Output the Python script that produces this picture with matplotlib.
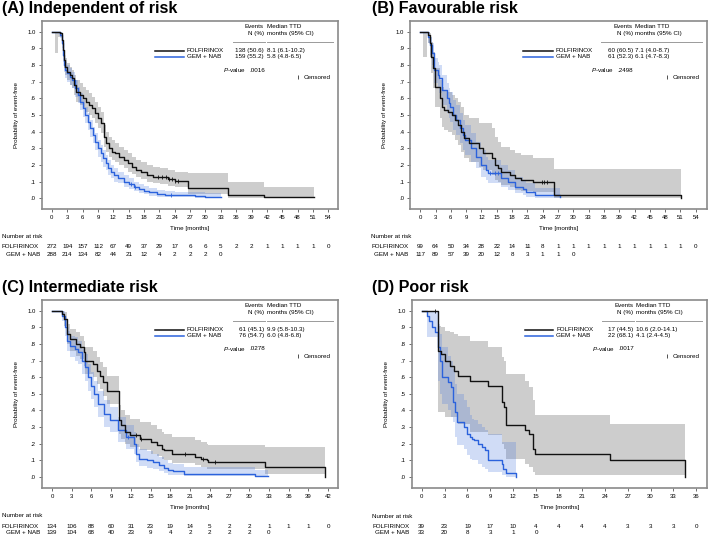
import matplotlib
matplotlib.use("Agg")
import matplotlib.pyplot as plt
import matplotlib.transforms as mtransforms
import numpy as np

plt.rcParams['font.family'] = ['Liberation Sans', 'DejaVu Sans']
plt.rcParams['mathtext.fontset'] = 'custom'
plt.rcParams['mathtext.rm'] = 'Liberation Sans'
plt.rcParams['mathtext.it'] = 'Liberation Sans:italic'

# ---------------- data ----------------
# (A) Independent of risk
a_fol_t = [0, 0.6, 1.2, 1.5, 1.9, 2.1, 2.3, 2.6, 3.0, 3.5, 4.0, 4.4, 4.8, 5.4, 6.0, 6.6, 7.2, 7.8, 8.4, 9.0, 9.6,
           10.2, 10.6, 11.1, 11.7, 12.4, 13.2, 14.0, 14.8, 15.6, 16.4, 17.4, 18.5, 19.8, 21.2, 22.6, 24.0, 26.5,
           34.4, 41.5, 51.2]
a_fol_s = [1.00, 1.00, 1.00, 0.99, 0.95, 0.89, 0.83, 0.79, 0.76, 0.74, 0.72, 0.68, 0.64, 0.62, 0.60, 0.58, 0.56,
           0.54, 0.51, 0.48, 0.45, 0.37, 0.33, 0.30, 0.28, 0.27, 0.25, 0.23, 0.21, 0.19, 0.17, 0.155, 0.14, 0.13,
           0.125, 0.115, 0.105, 0.06, 0.02, 0.007, 0.007]
a_fol_lo = [1.00, 0.87, 0.97, 0.97, 0.92, 0.85, 0.78, 0.74, 0.71, 0.68, 0.66, 0.62, 0.58, 0.56, 0.54, 0.52, 0.50,
            0.48, 0.45, 0.42, 0.39, 0.31, 0.28, 0.25, 0.23, 0.22, 0.20, 0.18, 0.16, 0.145, 0.13, 0.115, 0.10, 0.09,
            0.085, 0.075, 0.065, 0.025, 0.0, 0.0, 0.0]
a_fol_hi = [1.00, 1.00, 1.00, 1.00, 0.98, 0.93, 0.88, 0.84, 0.81, 0.79, 0.77, 0.74, 0.71, 0.69, 0.67, 0.65, 0.63,
            0.61, 0.58, 0.55, 0.52, 0.44, 0.40, 0.37, 0.35, 0.33, 0.31, 0.29, 0.27, 0.25, 0.23, 0.215, 0.20, 0.19,
            0.18, 0.17, 0.16, 0.15, 0.10, 0.065, 0.065]
a_gem_t = [0, 1.6, 1.9, 2.1, 2.3, 2.6, 3.0, 3.5, 4.0, 4.5, 5.0, 5.5, 6.0, 6.5, 7.0, 7.5, 8.0, 8.5, 9.0, 9.5, 10.0,
           10.5, 11.0, 11.6, 12.2, 13.0, 14.0, 15.0, 16.0, 17.0, 18.0, 19.0, 20.5, 22.0, 24.0, 28.0, 30.0, 33.0]
a_gem_s = [1.00, 0.98, 0.93, 0.86, 0.80, 0.77, 0.75, 0.73, 0.71, 0.66, 0.62, 0.58, 0.54, 0.50, 0.46, 0.42, 0.38,
           0.34, 0.30, 0.27, 0.24, 0.21, 0.18, 0.16, 0.14, 0.12, 0.10, 0.085, 0.07, 0.055, 0.045, 0.035, 0.025,
           0.02, 0.018, 0.012, 0.005, 0.005]
a_gem_lo = [1.00, 0.96, 0.90, 0.82, 0.76, 0.72, 0.70, 0.68, 0.66, 0.61, 0.57, 0.53, 0.49, 0.45, 0.41, 0.37, 0.33,
            0.29, 0.25, 0.22, 0.19, 0.17, 0.14, 0.12, 0.10, 0.09, 0.07, 0.055, 0.045, 0.03, 0.025, 0.015, 0.01,
            0.005, 0.005, 0.0, 0.0, 0.0]
a_gem_hi = [1.00, 1.00, 0.96, 0.90, 0.84, 0.82, 0.80, 0.78, 0.76, 0.71, 0.67, 0.63, 0.59, 0.55, 0.51, 0.47, 0.43,
            0.39, 0.35, 0.32, 0.29, 0.26, 0.23, 0.20, 0.18, 0.16, 0.14, 0.12, 0.10, 0.085, 0.075, 0.06, 0.05,
            0.045, 0.04, 0.035, 0.03, 0.03]
a_fol_cens = [20.8, 21.6, 22.3, 22.9, 23.5, 24.1, 24.6]
a_gem_cens = [15.5, 16.3, 23.3]
a_fol_risk = [272, 194, 157, 112, 67, 49, 37, 29, 17, 6, 6, 5, 2, 2, 1, 1, 1, 1, 0]
a_gem_risk = [288, 214, 134, 82, 44, 21, 12, 4, 2, 2, 2, 0]
a_stats = ["138 (50.6)", "8.1 (6.1-10.2)", "159 (55.2)", "5.8 (4.8-6.5)", ".0016"]

# (B) Favourable risk
b_fol_t = [0, 0.6, 1.3, 1.6, 1.9, 2.2, 2.5, 2.9, 3.9, 4.2, 4.6, 5.4, 6.2, 6.8, 7.4, 8.0, 8.6, 9.5, 11.6, 12.3,
           14.1, 14.6, 15.2, 15.8, 17.6, 18.6, 19.8, 22.1, 26.3, 51.2]
b_fol_s = [1.00, 1.00, 1.00, 0.98, 0.93, 0.85, 0.78, 0.67, 0.60, 0.55, 0.53, 0.52, 0.50, 0.47, 0.44, 0.40, 0.36,
           0.33, 0.30, 0.27, 0.24, 0.20, 0.18, 0.16, 0.14, 0.12, 0.11, 0.095, 0.02, 0.0]
b_fol_lo = [1.00, 0.85, 1.00, 0.93, 0.85, 0.75, 0.66, 0.55, 0.48, 0.43, 0.41, 0.40, 0.38, 0.35, 0.32, 0.28, 0.24,
            0.22, 0.19, 0.17, 0.14, 0.11, 0.10, 0.08, 0.07, 0.05, 0.045, 0.035, 0.002, 0.0]
b_fol_hi = [1.00, 1.00, 1.00, 1.00, 0.99, 0.94, 0.88, 0.78, 0.71, 0.67, 0.65, 0.64, 0.62, 0.60, 0.58, 0.55, 0.50,
            0.48, 0.45, 0.45, 0.42, 0.37, 0.34, 0.31, 0.29, 0.27, 0.26, 0.24, 0.175, 0.175]
b_gem_t = [0, 1.6, 2.0, 2.3, 2.8, 3.4, 3.7, 4.3, 5.2, 5.6, 5.9, 6.5, 7.1, 7.7, 8.3, 8.7, 10.0, 10.9, 11.9, 12.9,
           13.2, 15.9, 17.2, 18.5, 20.1, 20.8, 22.5, 27.3]
b_gem_s = [1.00, 0.97, 0.92, 0.87, 0.77, 0.74, 0.72, 0.65, 0.60, 0.57, 0.55, 0.50, 0.47, 0.42, 0.38, 0.35, 0.30,
           0.25, 0.20, 0.17, 0.15, 0.12, 0.10, 0.07, 0.055, 0.04, 0.02, 0.01]
b_gem_lo = [1.00, 0.93, 0.86, 0.80, 0.69, 0.66, 0.63, 0.56, 0.51, 0.48, 0.46, 0.41, 0.38, 0.33, 0.29, 0.26, 0.22,
            0.18, 0.13, 0.11, 0.09, 0.07, 0.05, 0.03, 0.02, 0.01, 0.003, 0.0]
b_gem_hi = [1.00, 1.00, 0.97, 0.93, 0.84, 0.82, 0.80, 0.74, 0.69, 0.66, 0.64, 0.59, 0.56, 0.51, 0.47, 0.44, 0.39,
            0.34, 0.29, 0.25, 0.23, 0.20, 0.17, 0.13, 0.11, 0.09, 0.06, 0.05]
b_fol_cens = [23.8, 24.3, 24.8]
b_gem_cens = [13.6, 14.6, 15.2]
b_fol_risk = [99, 64, 50, 34, 28, 22, 14, 11, 8, 1, 1, 1, 1, 1, 1, 1, 1, 1, 0]
b_gem_risk = [117, 89, 57, 39, 20, 12, 8, 3, 1, 1, 0]
b_stats = ["60 (60.5)", "7.1 (4.0-8.7)", "61 (52.3)", "6.1 (4.7-8.3)", ".2498"]

# (C) Intermediate risk
c_fol_t = [0, 1.5, 1.8, 2.25, 2.7, 3.7, 4.3, 4.8, 5.0, 6.3, 6.8, 7.3, 7.8, 8.3, 10.2, 10.5, 11.1, 11.9, 13.4,
           15.1, 15.9, 16.7, 17.0, 18.2, 21.7, 22.7, 23.5, 23.8, 32.4, 41.5]
c_fol_s = [1.00, 0.98, 0.95, 0.86, 0.83, 0.80, 0.78, 0.75, 0.70, 0.68, 0.64, 0.61, 0.57, 0.52, 0.34, 0.31, 0.27,
           0.25, 0.23, 0.21, 0.19, 0.17, 0.16, 0.14, 0.12, 0.11, 0.10, 0.09, 0.057, 0.0]
c_fol_lo = [1.00, 0.96, 0.91, 0.80, 0.76, 0.73, 0.71, 0.67, 0.62, 0.60, 0.56, 0.53, 0.49, 0.44, 0.26, 0.23, 0.20,
            0.18, 0.16, 0.14, 0.125, 0.11, 0.10, 0.085, 0.07, 0.06, 0.05, 0.045, 0.015, 0.0]
c_fol_hi = [1.00, 1.00, 0.99, 0.92, 0.89, 0.87, 0.85, 0.82, 0.78, 0.76, 0.72, 0.69, 0.66, 0.61, 0.43, 0.40, 0.37,
            0.35, 0.33, 0.31, 0.29, 0.27, 0.26, 0.24, 0.22, 0.21, 0.20, 0.19, 0.18, 0.18]
c_gem_t = [0, 1.5, 2.0, 2.25, 2.7, 3.5, 4.0, 4.5, 5.0, 5.5, 6.0, 6.4, 7.0, 7.9, 8.8, 10.1, 11.3, 12.4, 12.7, 13.3,
           14.4, 15.4, 16.2, 17.0, 17.7, 18.4, 20.0, 30.9, 32.9]
c_gem_s = [1.00, 0.97, 0.90, 0.82, 0.79, 0.77, 0.75, 0.70, 0.66, 0.60, 0.55, 0.50, 0.44, 0.38, 0.34, 0.28, 0.24,
           0.20, 0.14, 0.11, 0.10, 0.087, 0.07, 0.054, 0.04, 0.034, 0.02, 0.005, 0.005]
c_gem_lo = [1.00, 0.94, 0.85, 0.76, 0.72, 0.70, 0.68, 0.62, 0.58, 0.52, 0.47, 0.42, 0.36, 0.30, 0.27, 0.21, 0.17,
            0.14, 0.09, 0.065, 0.055, 0.045, 0.035, 0.022, 0.014, 0.01, 0.004, 0.0, 0.0]
c_gem_hi = [1.00, 1.00, 0.95, 0.88, 0.85, 0.84, 0.82, 0.77, 0.74, 0.68, 0.63, 0.58, 0.52, 0.46, 0.42, 0.36, 0.31,
            0.27, 0.20, 0.17, 0.155, 0.14, 0.12, 0.10, 0.085, 0.075, 0.06, 0.04, 0.04]
c_fol_cens = [12.8, 13.6, 20.3, 22.9, 24.8]
c_gem_cens = [11.5]
c_fol_risk = [134, 106, 88, 60, 31, 23, 19, 14, 5, 2, 2, 1, 1, 1, 0]
c_gem_risk = [139, 104, 68, 40, 23, 9, 4, 2, 2, 2, 2, 0]
c_stats = ["61 (45.1)", "9.9 (5.8-10.3)", "76 (54.7)", "6.0 (4.8-6.8)", ".0278"]

# (D) Poor risk
d_fol_t = [0, 2.1, 2.5, 3.1, 3.7, 4.2, 4.8, 6.3, 8.7, 10.5, 10.8, 11.1, 13.5, 14.1, 14.6, 14.9, 24.7, 34.5]
d_fol_s = [1.00, 0.76, 0.74, 0.70, 0.67, 0.64, 0.61, 0.58, 0.55, 0.45, 0.42, 0.31, 0.28, 0.26, 0.17, 0.14, 0.10, 0.0]
d_fol_lo = [1.00, 0.39, 0.39, 0.36, 0.36, 0.36, 0.32, 0.27, 0.25, 0.20, 0.17, 0.11, 0.08, 0.06, 0.03, 0.01, 0.01, 0.0]
d_fol_hi = [1.00, 0.91, 0.90, 0.88, 0.87, 0.86, 0.85, 0.82, 0.78, 0.72, 0.70, 0.62, 0.58, 0.54, 0.46, 0.37, 0.32, 0.32]
d_gem_t = [0, 0.65, 0.9, 1.3, 1.75, 2.1, 2.4, 2.6, 3.5, 3.9, 4.1, 4.4, 4.6, 5.5, 5.9, 6.3, 6.6, 6.8, 7.4, 7.9,
           8.3, 8.7, 10.5, 10.7, 11.1, 12.4]
d_gem_s = [1.00, 0.97, 0.94, 0.90, 0.87, 0.78, 0.70, 0.60, 0.57, 0.54, 0.45, 0.39, 0.33, 0.30, 0.26, 0.24, 0.23,
           0.22, 0.20, 0.18, 0.16, 0.10, 0.075, 0.05, 0.025, 0.0]
d_gem_lo = [1.00, 0.84, 0.84, 0.84, 0.84, 0.58, 0.50, 0.44, 0.40, 0.36, 0.33, 0.24, 0.19, 0.17, 0.13, 0.11, 0.10,
            0.10, 0.08, 0.06, 0.05, 0.03, 0.01, 0.01, 0.0, 0.0]
d_gem_hi = [1.00, 1.00, 1.00, 1.00, 1.00, 0.92, 0.86, 0.78, 0.73, 0.70, 0.65, 0.56, 0.50, 0.46, 0.42, 0.37, 0.35,
            0.34, 0.32, 0.30, 0.28, 0.26, 0.21, 0.21, 0.21, 0.21]
d_fol_cens = [1.7]
d_gem_cens = []
d_fol_risk = [39, 23, 19, 17, 10, 4, 4, 4, 4, 3, 3, 3, 0]
d_gem_risk = [33, 20, 8, 3, 1, 0]
d_stats = ["17 (44.5)", "10.6 (2.0-14.1)", "22 (68.1)", "4.1 (2.4-4.5)", ".0017"]

y_ticks = [0.0, 0.1, 0.2, 0.3, 0.4, 0.5, 0.6, 0.7, 0.8, 0.9, 1.0]
y_labels = [".0", ".1", ".2", ".3", ".4", ".5", ".6", ".7", ".8", ".9", "1.0"]

# ---------------- figure ----------------
W, H = 709, 537
fig = plt.figure(figsize=(W / 100, H / 100), dpi=100)

BLACK = '#111111'
BLUE = '#2b62dc'
FS = 4.5


def px_rect(left, top, right, bottom):
    return [left / W, 1 - bottom / H, (right - left) / W, (bottom - top) / H]


def step_at(t, s, x):
    i = np.searchsorted(t, x, side='right') - 1
    return s[i]


def panel(rect, title, title_xy, xmax, xlim, fol, gem, stats, risk_y, lab_x):
    ax = fig.add_axes(rect)
    fol_t, fol_s, fol_lo, fol_hi, fol_c, fol_n = fol
    gem_t, gem_s, gem_lo, gem_hi, gem_c, gem_n = gem

    ax.fill_between(fol_t, fol_lo, fol_hi, step='post', color='#a9a9a9', alpha=0.58, linewidth=0)
    ax.fill_between(gem_t, gem_lo, gem_hi, step='post', color='#4a7be0', alpha=0.26, linewidth=0)
    ax.step(gem_t, gem_s, where='post', color=BLUE, lw=1.0)
    ax.step(fol_t, fol_s, where='post', color=BLACK, lw=1.0)
    ax.plot(fol_c, [step_at(fol_t, fol_s, x) for x in fol_c], ls='none', marker='|',
            ms=3, mew=0.6, color=BLACK)
    if gem_c:
        ax.plot(gem_c, [step_at(gem_t, gem_s, x) for x in gem_c], ls='none', marker='|',
                ms=3, mew=0.6, color=BLUE)

    ax.set_xlim(*xlim)
    ax.set_ylim(-0.065, 1.065)
    xt = list(range(0, xmax + 1, 3))
    ax.set_xticks(xt)
    ax.set_yticks(y_ticks)
    ax.set_yticklabels(y_labels)
    ax.tick_params(labelsize=4.3, length=2.5, width=0.6, color='#555555', pad=1.8)
    for sp in ax.spines.values():
        sp.set_color('#8a8a8a')
        sp.set_linewidth(1.2)
    ax.set_xlabel("Time [months]", fontsize=FS)
    ax.xaxis.label.set_va('center')
    ax.xaxis.set_label_coords(0.5, -0.103)
    ax.set_ylabel("Probability of event-free", fontsize=FS)
    ax.yaxis.label.set_va('center')
    ax.yaxis.set_label_coords(-0.085, 0.5)

    # legend block
    tr = ax.transAxes
    ax.text(0.750, 0.970, "Events", ha='right', va='center', fontsize=FS, transform=tr)
    ax.text(0.750, 0.931, "N (%)", ha='right', va='center', fontsize=FS, transform=tr)
    ax.text(0.759, 0.970, "Median TTD", ha='left', va='center', fontsize=FS, transform=tr)
    ax.text(0.759, 0.931, "months (95% CI)", ha='left', va='center', fontsize=FS, transform=tr)
    ax.plot([0.644, 0.753], [0.890, 0.890], color='#9a9a9a', lw=0.7, transform=tr)
    ax.plot([0.759, 0.984], [0.890, 0.890], color='#9a9a9a', lw=0.7, transform=tr)
    ax.plot([0.382, 0.480], [0.842, 0.842], color=BLACK, lw=1.1, transform=tr)
    ax.plot([0.382, 0.480], [0.810, 0.810], color=BLUE, lw=1.1, transform=tr)
    ax.text(0.490, 0.842, "FOLFIRINOX", ha='left', va='center', fontsize=FS, transform=tr)
    ax.text(0.490, 0.810, "GEM + NAB", ha='left', va='center', fontsize=FS, transform=tr)
    ax.text(0.750, 0.842, stats[0], ha='right', va='center', fontsize=FS, transform=tr)
    ax.text(0.759, 0.842, stats[1], ha='left', va='center', fontsize=FS, transform=tr)
    ax.text(0.750, 0.810, stats[2], ha='right', va='center', fontsize=FS, transform=tr)
    ax.text(0.759, 0.810, stats[3], ha='left', va='center', fontsize=FS, transform=tr)
    ax.text(0.688, 0.739, r"$\mathit{P}$-value", ha='right', va='center', fontsize=FS, transform=tr)
    ax.text(0.700, 0.739, stats[4], ha='left', va='center', fontsize=FS, transform=tr)
    ax.plot([0.864], [0.700], ls='none', marker='|', ms=3, mew=0.6, color='#333333', transform=tr)
    ax.text(0.883, 0.700, "Censored", ha='left', va='center', fontsize=FS, transform=tr)

    # title
    fig.text(title_xy[0] / W, 1 - title_xy[1] / H, title, fontsize=11.6, fontweight='bold',
             ha='left', va='baseline')

    # number at risk
    y_head, y_fol, y_gem = [1 - v / H for v in risk_y]
    fig.text(lab_x[0] / W, y_head, "Number at risk", fontsize=FS, ha='left', va='center')
    fig.text(lab_x[0] / W, y_fol, "FOLFIRINOX", fontsize=FS, ha='left', va='center')
    fig.text(lab_x[1] / W, y_gem, "GEM + NAB", fontsize=FS, ha='right', va='center')
    btr = mtransforms.blended_transform_factory(ax.transData, fig.transFigure)
    for x, n in zip(xt, fol_n):
        ax.text(x, y_fol, str(n), ha='center', va='center', fontsize=FS, transform=btr, clip_on=False)
    for x, n in zip(xt, gem_n):
        ax.text(x, y_gem, str(n), ha='center', va='center', fontsize=FS, transform=btr, clip_on=False)
    return ax


panel(px_rect(41.7, 21, 338, 209), "(A) Independent of risk", (2, 13.2), 54, (-2.0, 55.9),
      (a_fol_t, a_fol_s, a_fol_lo, a_fol_hi, a_fol_cens, a_fol_risk),
      (a_gem_t, a_gem_s, a_gem_lo, a_gem_hi, a_gem_cens, a_gem_risk),
      a_stats, (236.7, 246.7, 254.0), (1.7, 40.0))
panel(px_rect(410, 21, 707, 209), "(B) Favourable risk", (371.7, 13.2), 54, (-2.0, 56.2),
      (b_fol_t, b_fol_s, b_fol_lo, b_fol_hi, b_fol_cens, b_fol_risk),
      (b_gem_t, b_gem_s, b_gem_lo, b_gem_hi, b_gem_cens, b_gem_risk),
      b_stats, (236.7, 246.7, 254.0), (371.0, 408.3))
panel(px_rect(41.7, 300, 338, 487.7), "(C) Intermediate risk", (2, 292.2), 42, (-1.57, 43.5),
      (c_fol_t, c_fol_s, c_fol_lo, c_fol_hi, c_fol_cens, c_fol_risk),
      (c_gem_t, c_gem_s, c_gem_lo, c_gem_hi, c_gem_cens, c_gem_risk),
      c_stats, (515.5, 526.3, 533.0), (1.7, 40.0))
panel(px_rect(411.7, 300, 707, 487.7), "(D) Poor risk", (371.7, 292.2), 36, (-1.31, 37.4),
      (d_fol_t, d_fol_s, d_fol_lo, d_fol_hi, d_fol_cens, d_fol_risk),
      (d_gem_t, d_gem_s, d_gem_lo, d_gem_hi, d_gem_cens, d_gem_risk),
      d_stats, (516.5, 526.5, 533.0), (372.3, 409.3))

fig.savefig("out.png", dpi=100)
